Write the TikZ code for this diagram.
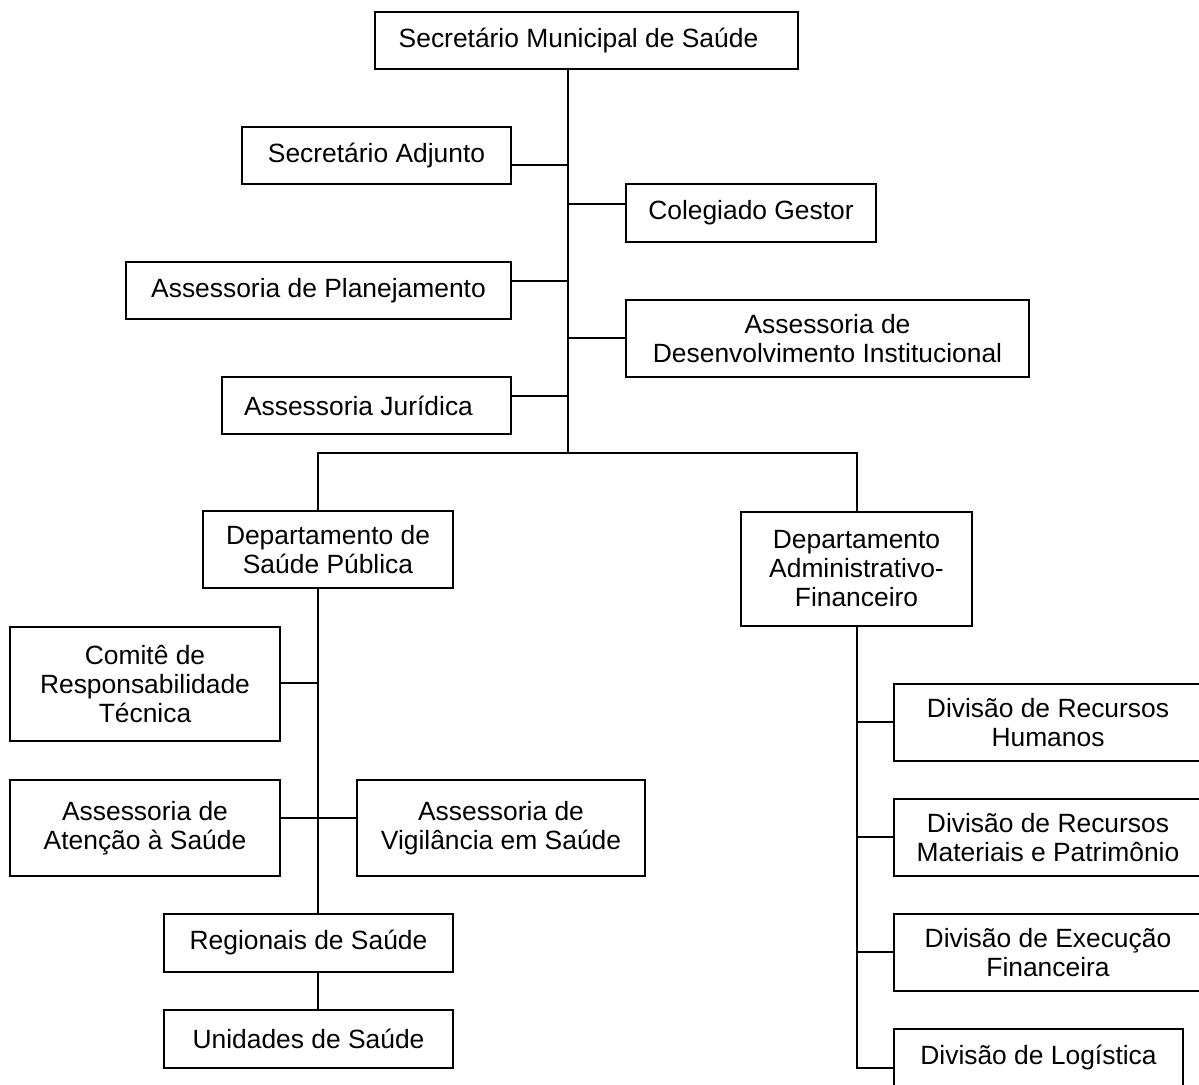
\documentclass[tikz,border=0pt]{standalone}
\usepackage{fontspec}
\setmainfont{Liberation Sans}
\newcommand{\orgbox}[6]{%
  \node[orgnode, minimum width={(#4-#2)*1pt}, minimum height={(#5-#3)*1pt}]
    (#1) at ({(#2+#4)/2},{(#3+#5)/2}) {#6};}
\begin{document}
\begin{tikzpicture}[x=1pt,y=-1pt,
  orgnode/.style={draw=black, line width=1.7pt, fill=white, inner sep=0pt,
    align=center, font=\fontsize{26.4}{29}\selectfont},
  link/.style={draw=black, line width=1.5pt}]
\useasboundingbox[fill=white] (0,0) rectangle (1199,1084);

% boxes
\orgbox{top}{375}{12}{798}{69}{Secretário Municipal de Saúde\kern16pt}
\orgbox{adj}{242}{127}{511}{184}{Secretário Adjunto}
\orgbox{col}{626}{184}{876}{242}{Colegiado Gestor}
\orgbox{plan}{126}{262}{511}{319}{Assessoria de Planejamento}
\orgbox{desen}{626}{300}{1029}{377}{Assessoria de\\Desenvolvimento Institucional}
\orgbox{jur}{222}{377}{511}{434}{Assessoria Jurídica\kern16pt}
\orgbox{dsp}{203}{511}{453}{588}{Departamento de\\Saúde Pública}
\orgbox{daf}{741}{512}{972}{626}{Departamento\\Administrativo-\\Financeiro}
\orgbox{com}{10}{627}{280}{741}{Comitê de\\Responsabilidade\\Técnica}
\orgbox{ate}{10}{780}{280}{876}{Assessoria de\\Atenção à Saúde}
\orgbox{vig}{357}{780}{645}{876}{Assessoria de\\Vigilância em Saúde}
\orgbox{reg}{164}{914}{453}{972}{Regionais de Saúde}
\orgbox{uni}{164}{1010}{453}{1068}{Unidades de Saúde}
\orgbox{rh}{894}{684}{1202}{761}{Divisão de Recursos\\Humanos}
\orgbox{rm}{894}{799}{1202}{876}{Divisão de Recursos\\Materiais e Patrimônio}
\orgbox{ef}{894}{914}{1202}{991}{Divisão de Execução\\Financeira}
\orgbox{log}{894}{1029}{1183}{1086}{Divisão de Logística}

% junction coordinates
\coordinate (T) at (568,453);
\coordinate (BL) at (318,453);
\coordinate (BR) at (857,453);
\coordinate (jadj) at (568,165);
\coordinate (jcol) at (568,204);
\coordinate (jplan) at (568,281);
\coordinate (jdesen) at (568,338);
\coordinate (jjur) at (568,396);
\coordinate (jcom) at (318,683);
\coordinate (jate) at (318,818);
\coordinate (jrh) at (857,722);
\coordinate (jrm) at (857,837);
\coordinate (jef) at (857,952);
\coordinate (jlog) at (857,1068);

% top trunk and branches
\draw[link] (top.south -| T) -- (T);
\draw[link] (adj.east |- jadj) -- (jadj);
\draw[link] (jcol) -- (col.west |- jcol);
\draw[link] (plan.east |- jplan) -- (jplan);
\draw[link] (jdesen) -- (desen.west |- jdesen);
\draw[link] (jur.east |- jjur) -- (jjur);

% bus to departments
\draw[link] (dsp.north -| BL) -- (BL) -- (BR) -- (daf.north -| BR);

% left department
\draw[link] (dsp.south -| BL) -- (reg.north -| BL);
\draw[link] (com.east |- jcom) -- (jcom);
\draw[link] (ate.east |- jate) -- (vig.west |- jate);
\draw[link] (reg.south -| BL) -- (uni.north -| BL);

% right department
\draw[link] (daf.south -| BR) -- (jlog) -- (log.west |- jlog);
\draw[link] (jrh) -- (rh.west |- jrh);
\draw[link] (jrm) -- (rm.west |- jrm);
\draw[link] (jef) -- (ef.west |- jef);
\end{tikzpicture}
\end{document}
